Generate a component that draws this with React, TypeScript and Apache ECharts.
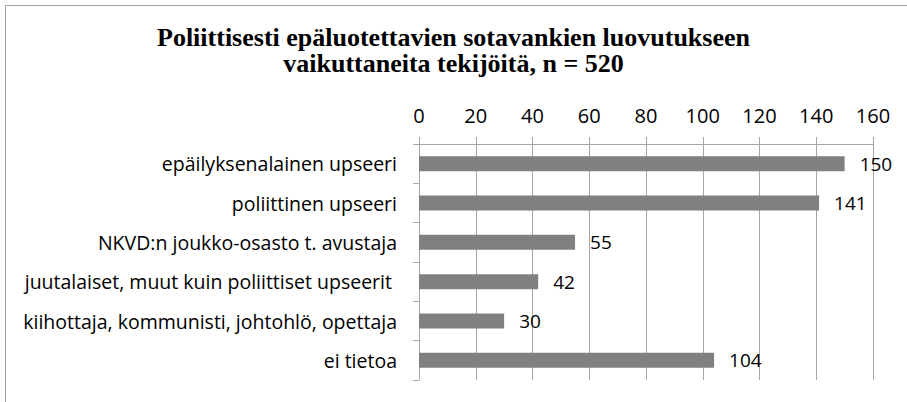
import React, { useEffect, useRef } from "react";
import * as echarts from "echarts";

const categories = [
  "epäilyksenalainen upseeri",
  "poliittinen upseeri",
  "NKVD:n joukko-osasto t. avustaja",
  "juutalaiset, muut kuin poliittiset upseerit ",
  "kiihottaja, kommunisti, johtohlö, opettaja",
  "ei tietoa",
];
const values = [150, 141, 55, 42, 30, 104];
const titleText = "Poliittisesti epäluotettavien sotavankien luovutukseen\nvaikuttaneita tekijöitä, n = 520";

const labelFont = "Open Sans";
const gridColor = "#a6a6a6";

export default function App() {
  const ref = useRef<HTMLDivElement>(null);
  useEffect(() => {
    document.body.style.margin = "0";
    const chart = echarts.init(ref.current!, null, { renderer: "svg" });
    chart.setOption({
      animation: false,
      backgroundColor: "#ffffff",
      title: {
        text: titleText,
        left: "center",
        top: 19,
        textStyle: {
          fontFamily: "Liberation Serif",
          fontWeight: "bold",
          fontSize: 26,
          lineHeight: 26,
          color: "#000",
        },
      },
      graphic: [
        {
          type: "rect",
          shape: { x: 5.5, y: 5.5, width: 1200, height: 1200 },
          style: { fill: "none", stroke: "#a0a0a0", lineWidth: 1 },
          silent: true,
        },
      ],
      grid: { left: 419, right: 34, top: 144, bottom: 22, containLabel: false },
      xAxis: {
        type: "value",
        position: "top",
        min: 0,
        max: 160,
        interval: 20,
        axisLine: { show: true, lineStyle: { color: gridColor } },
        axisTick: { show: true, length: 7, lineStyle: { color: gridColor } },
        splitLine: { show: true, lineStyle: { color: gridColor, width: 1 } },
        axisLabel: { fontFamily: labelFont, fontSize: 20, color: "#000", margin: 19 },
      },
      yAxis: {
        type: "category",
        inverse: true,
        data: categories,
        axisLine: { show: true, lineStyle: { color: gridColor } },
        axisTick: { show: true, length: 6, lineStyle: { color: gridColor } },
        axisLabel: { fontFamily: labelFont, fontSize: 19.5, color: "#000", margin: 22 },
      },
      series: [
        {
          type: "bar",
          data: values,
          barWidth: 15,
          itemStyle: { color: "#808080" },
          label: {
            show: true,
            position: "right",
            distance: 15,
            fontFamily: labelFont,
            fontSize: 19,
            color: "#000",
          },
        },
      ],
    });
    return () => chart.dispose();
  }, []);
  return (
    <div
      ref={ref}
      style={{ position: "fixed", left: 0, top: 0, width: 907, height: 402 }}
    />
  );
}
